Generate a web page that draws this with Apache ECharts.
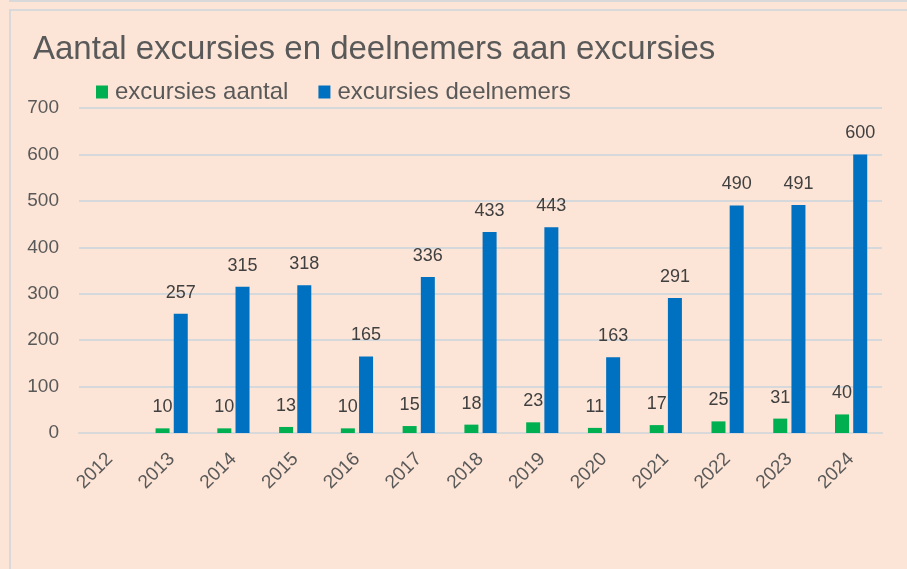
<!DOCTYPE html>
<html>
<head>
<meta charset="utf-8">
<script src="https://cdn.jsdelivr.net/npm/echarts@6/dist/echarts.min.js"></script>
<style>
html,body{margin:0;padding:0;background:#FCE4D6;}
#c{width:907px;height:569px;}
</style>
</head>
<body>
<div id="c"></div>
<script>
const titleText = 'Aantal excursies en deelnemers aan excursies';
const categories = ['2012','2013','2014','2015','2016','2017','2018','2019','2020','2021','2022','2023','2024'];
const seriesNames = ['excursies aantal','excursies deelnemers'];
const aantal = [null,10,10,13,10,15,18,23,11,17,25,31,40];
const deelnemers = [null,257,315,318,165,336,433,443,163,291,490,491,600];
const yTicks = {min:0,max:700,interval:100};

const chart = echarts.init(document.getElementById('c'), null, {renderer:'canvas'});
const font = 'Liberation Sans';
const lbl = {show:true, position:'top', distance:12, color:'#404040', fontSize:18, fontFamily:font};
chart.setOption({
  backgroundColor:'#FCE4D6',
  animation:false,
  title:{text:titleText, left:28, top:28, textStyle:{fontFamily:font, fontSize:33, fontWeight:'normal', color:'#595959'}},
  legend:{data:seriesNames, left:91, top:75, itemWidth:12, itemHeight:13, itemGap:30, icon:'rect',
    textStyle:{fontFamily:font, fontSize:24, color:'#595959', padding:[0,0,0,2]}},
  grid:{left:79, right:25, top:108, bottom:136, containLabel:false},
  xAxis:{type:'category', data:categories,
    axisLine:{lineStyle:{color:'#D9D9D9', width:2}}, axisTick:{show:false},
    axisLabel:{rotate:45, fontFamily:font, fontSize:19, color:'#595959', margin:23}},
  yAxis:{type:'value', min:yTicks.min, max:yTicks.max, interval:yTicks.interval,
    axisLine:{show:false}, axisTick:{show:false},
    splitLine:{lineStyle:{color:'#D6D9DC', width:2}},
    axisLabel:{fontFamily:font, fontSize:19, color:'#595959', margin:20}},
  graphic:[
    {type:'rect', shape:{x:9,y:0,width:898,height:2}, style:{fill:'#D9D9D9'}, silent:true},
    {type:'rect', shape:{x:9,y:9,width:898,height:2}, style:{fill:'#D9D9D9'}, silent:true},
    {type:'rect', shape:{x:9,y:9,width:2,height:560}, style:{fill:'#D9D9D9'}, silent:true}
  ],
  series:[
    {name:seriesNames[0], type:'bar', data:aantal, barWidth:14, barGap:'30%', itemStyle:{color:'#00B050'}, label:lbl},
    {name:seriesNames[1], type:'bar', data:deelnemers, barWidth:14, itemStyle:{color:'#0070C0'}, label:lbl}
  ]
});
</script>
</body>
</html>
